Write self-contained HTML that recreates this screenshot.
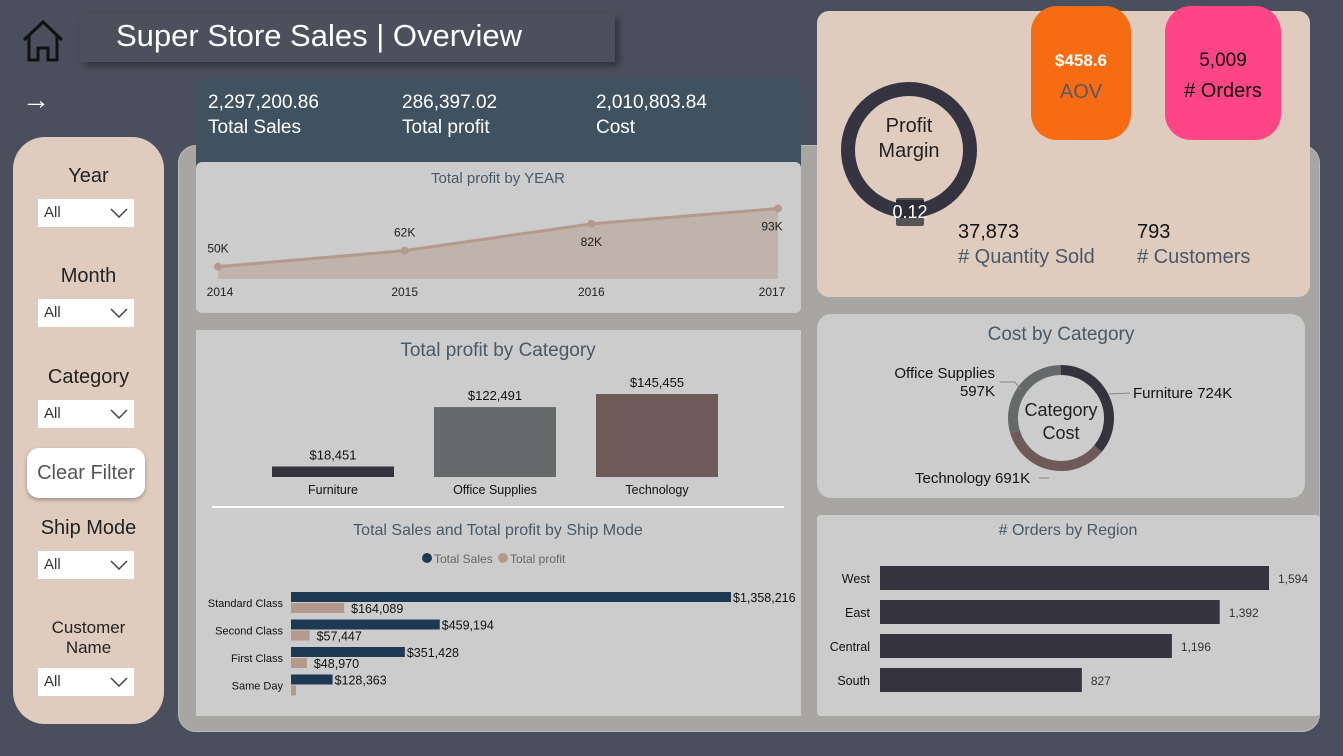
<!DOCTYPE html>
<html><head><meta charset="utf-8">
<style>
*{box-sizing:border-box;margin:0;padding:0}
body{width:1343px;height:756px;background:#494f5c;position:relative;overflow:hidden;font-family:"Liberation Sans",sans-serif}
.abs{position:absolute}
.lbl{position:absolute;font-size:20px;color:#222;text-align:center;width:151px;left:13px}
.dd{position:absolute;left:38px;width:96px;height:28px;background:#fff;font-size:15px;color:#333;padding:5px 6px}
.dd svg{position:absolute;right:6px;top:9px}
</style></head><body>
<div class="abs" style="left:178px;top:145px;width:1142px;height:587px;background:#a8a6a3;border-radius:18px;border:1px solid #bbb"></div>
<svg class="abs" style="left:20px;top:18px" width="46" height="46" viewBox="0 0 46 46"><path d="M4 22 L23 4 L42 22 M9 18 V42 H18 V30 H28 V42 H37 V18" fill="none" stroke="#111" stroke-width="3"/></svg>
<div class="abs" style="left:80px;top:14px;width:535px;height:48px;background:#4b505d;box-shadow:4px 4px 6px rgba(0,0,0,.35);color:#fff;font-size:31px;padding:4px 0 0 36px">Super Store Sales | Overview</div>
<div class="abs" style="left:22px;top:84px;color:#fff;font-size:28px">→</div>

<div class="abs" style="left:13px;top:137px;width:151px;height:587px;background:#e0ccbf;border-radius:32px"></div>
<div class="lbl" style="top:165px">Year</div>
<div class="dd" style="top:199px">All<svg width="18" height="10"><path d="M1 1 L9 9 L17 1" fill="none" stroke="#444" stroke-width="1.5"/></svg></div>
<div class="lbl" style="top:265px">Month</div>
<div class="dd" style="top:299px">All<svg width="18" height="10"><path d="M1 1 L9 9 L17 1" fill="none" stroke="#444" stroke-width="1.5"/></svg></div>
<div class="lbl" style="top:366px">Category</div>
<div class="dd" style="top:400px">All<svg width="18" height="10"><path d="M1 1 L9 9 L17 1" fill="none" stroke="#444" stroke-width="1.5"/></svg></div>
<div class="abs" style="left:27px;top:448px;width:118px;height:50px;background:#fff;border-radius:12px;font-size:20px;color:#555;text-align:center;line-height:50px;box-shadow:0 2px 4px rgba(0,0,0,.3)">Clear Filter</div>
<div class="lbl" style="top:517px">Ship Mode</div>
<div class="dd" style="top:551px">All<svg width="18" height="10"><path d="M1 1 L9 9 L17 1" fill="none" stroke="#444" stroke-width="1.5"/></svg></div>
<div class="lbl" style="top:618px;font-size:17px;line-height:20px">Customer<br>Name</div>
<div class="dd" style="top:668px">All<svg width="18" height="10"><path d="M1 1 L9 9 L17 1" fill="none" stroke="#444" stroke-width="1.5"/></svg></div>

<div class="abs" style="left:196px;top:78px;width:605px;height:110px;background:#40525f;border-radius:14px 14px 0 0;color:#fff;font-size:19px;line-height:25px">
<div class="abs" style="left:12px;top:12px">2,297,200.86<br>Total Sales</div>
<div class="abs" style="left:206px;top:12px">286,397.02<br>Total profit</div>
<div class="abs" style="left:400px;top:12px">2,010,803.84<br>Cost</div>
</div>

<svg class="abs" id="lineChart" style="left:196px;top:162px" width="605" height="151"></svg>
<svg class="abs" id="catChart" style="left:196px;top:330px" width="605" height="386"></svg>

<div class="abs" style="left:817px;top:11px;width:493px;height:286px;background:#e0ccbf;border-radius:12px"></div>
<svg class="abs" style="left:830px;top:70px" width="160" height="170">
<circle cx="79" cy="80" r="61" fill="none" stroke="#363440" stroke-width="14"/>
<text x="79" y="62" text-anchor="middle" font-size="20" fill="#222">Profit</text>
<text x="79" y="87" text-anchor="middle" font-size="20" fill="#222">Margin</text>
<rect x="66" y="128" width="28" height="28" fill="#555" rx="2"/>
<rect x="66" y="130" width="28" height="18" fill="#2e2d35"/>
<text x="80" y="148" text-anchor="middle" font-size="18" fill="#fff">0.12</text>
</svg>
<div class="abs" style="left:1031px;top:6px;width:100px;height:134px;background:#f76c12;border-radius:26px;text-align:center">
<div style="color:#fff;font-size:17px;font-weight:bold;margin-top:45px">$458.6</div><div style="color:#5a5560;font-size:20px;margin-top:10px">AOV</div></div>
<div class="abs" style="left:1165px;top:6px;width:116px;height:134px;background:#fe4585;border-radius:26px;text-align:center">
<div style="color:#111;font-size:19px;margin-top:44px">5,009</div><div style="color:#111;font-size:20px;margin-top:8px"># Orders</div></div>
<div class="abs" style="left:958px;top:220px;font-size:20px;line-height:25px;color:#111">37,873<br><span style="color:#4b5866"># Quantity Sold</span></div>
<div class="abs" style="left:1137px;top:220px;font-size:20px;line-height:25px;color:#111">793<br><span style="color:#4b5866"># Customers</span></div>

<svg class="abs" id="costChart" style="left:817px;top:314px" width="488" height="184"></svg>
<svg class="abs" id="regionChart" style="left:817px;top:515px" width="503" height="201"></svg>

<script>
const NS="http://www.w3.org/2000/svg";
function mk(p,tag,a,txt){const e=document.createElementNS(NS,tag);for(const k in a)e.setAttribute(k,a[k]);if(txt!==undefined)e.textContent=txt;p.appendChild(e);return e;}

// ---- Profit by year
const years=["2014","2015","2016","2017"];
const yearProfit=[49.5,61.6,81.8,93.4];
const yearLabels=["50K","62K","82K","93K"];
(function(){
const s=document.getElementById('lineChart');
const bg=mk(s,'rect',{x:0,y:0,width:605,height:151,rx:6,fill:'#cccccc'});


const t=mk(s,'text',{x:302,y:21,'text-anchor':'middle','font-size':15,fill:'#4b5866'},'Total profit by YEAR');


const x=i=>22+i*(560/(years.length-1));
const y=v=>117-(v-40.2)*1.326;
let d='M'+x(0)+' 117';years.forEach((_,i)=>d+=' L'+x(i)+' '+y(yearProfit[i]));d+=' L'+x(years.length-1)+' 117Z';
const a=mk(s,'path',{d:d,fill:'#bfb3ab'});


const l=mk(s,'polyline',{points:years.map((_,i)=>x(i)+','+y(yearProfit[i])).join(' '),fill:'none',stroke:'#b49a8c','stroke-width':3});


years.forEach((yr,i)=>{
 const c=mk(s,'circle',{cx:x(i),cy:y(yearProfit[i]),r:4,fill:'#b49a8c'});
 
 
 const above=(i===0||i===1);
 const lb=mk(s,'text',{x:x(i)+(i===years.length-1?-6:0),y:above?y(yearProfit[i])-14:y(yearProfit[i])+22,'text-anchor':'middle','font-size':12,fill:'#222'},yearLabels[i]);
 
 
 const tk=mk(s,'text',{x:x(i)+(i===0?2:(i===years.length-1?-6:0)),y:134,'text-anchor':'middle','font-size':12,fill:'#222'},yr);
 
 
});
})();

// ---- Profit by category + ship mode
const cats=["Furniture","Office Supplies","Technology"];
const catProfit=[18451,122491,145455];
const catLabels=["$18,451","$122,491","$145,455"];
const catColors=["#35333d","#666969","#6e5a58"];
const shipModes=["Standard Class","Second Class","First Class","Same Day"];
const shipSales=[1358216,459194,351428,128363];
const shipProfit=[164089,57447,48970,15497];
const shipSalesLabels=["$1,358,216","$459,194","$351,428","$128,363"];
const shipProfitLabels=["$164,089","$57,447","$48,970",""];
(function(){
const s=document.getElementById('catChart');
const bg=mk(s,'rect',{x:0,y:0,width:605,height:386,fill:'#cccccc'});


const t=mk(s,'text',{x:302,y:26,'text-anchor':'middle','font-size':19,fill:'#4b5866'},'Total profit by Category');


const base=147,sc=83/145455;
cats.forEach((c,i)=>{
 const bx=76+i*162,h=catProfit[i]*sc;
 const r=mk(s,'rect',{x:bx,y:base-h,width:122,height:h,fill:catColors[i]});
 
 
 const v=mk(s,'text',{x:bx+61,y:base-h-7,'text-anchor':'middle','font-size':13,fill:'#111'},catLabels[i]);
 
 
 const n=mk(s,'text',{x:bx+61,y:base+17,'text-anchor':'middle','font-size':12.5,fill:'#111'},c);
 
 
});
const dv=mk(s,'rect',{x:16,y:176,width:572,height:2,fill:'#fff'});


const t2=mk(s,'text',{x:302,y:205,'text-anchor':'middle','font-size':16,fill:'#4b5866'},'Total Sales and Total profit by Ship Mode');


const lg1=mk(s,'circle',{cx:231,cy:228,r:5,fill:'#1d3a52'});


mk(s,'text',{x:238,y:233,'font-size':12,fill:'#666'},'Total Sales');
const lg2=mk(s,'circle',{cx:307,cy:228,r:5,fill:'#b49a8c'});


mk(s,'text',{x:314,y:233,'font-size':12,fill:'#666'},'Total profit');
const x0=95,xs=440/1358216;
shipModes.forEach((m,i)=>{
 const ry=262+i*27.5;
 const n=mk(s,'text',{x:87,y:ry+15,'text-anchor':'end','font-size':11,fill:'#111'},m);
 
 
 const w1=shipSales[i]*xs;
 const b1=mk(s,'rect',{x:x0,y:ry,width:w1,height:10,fill:'#1d3a52'});
 
 
 const l1=mk(s,'text',{x:x0+w1+2,y:ry+10,'font-size':12.5,fill:'#111'},shipSalesLabels[i]);
 
 
 const w2=shipProfit[i]*xs;
 const b2=mk(s,'rect',{x:x0,y:ry+11,width:w2,height:10,fill:'#b49a8c'});
 
 
 const l2=mk(s,'text',{x:x0+w2+7,y:ry+21,'font-size':12.5,fill:'#111'},shipProfitLabels[i]);
 
 
});
})();

// ---- Cost by category donut
const costCats=["Furniture","Technology","Office Supplies"];
const costVals=[724,691,597];
const costColors=["#35333d","#6e5a58","#666969"];
(function(){
const s=document.getElementById('costChart');
const bg=mk(s,'rect',{x:0,y:0,width:488,height:184,rx:14,fill:'#cccccc'});


const t=mk(s,'text',{x:244,y:26,'text-anchor':'middle','font-size':19,fill:'#4b5866'},'Cost by Category');


const cx=244,cy=104,r=48,tot=costVals.reduce((a,b)=>a+b,0);
let ang=0;
const pts=[];
costVals.forEach((v,i)=>{
 const a0=ang,a1=ang+v/tot*2*Math.PI;ang=a1;
 const p=(a)=>[cx+r*Math.sin(a),cy-r*Math.cos(a)];
 const [x1,y1]=p(a0),[x2,y2]=p(a1);
 const sg=mk(s,'path',{d:`M${x1} ${y1} A${r} ${r} 0 ${a1-a0>Math.PI?1:0} 1 ${x2} ${y2}`,fill:'none',stroke:costColors[i],'stroke-width':10});
 
 
});
mk(s,'text',{x:cx,y:102,'text-anchor':'middle','font-size':18,fill:'#222'},'Category');
mk(s,'text',{x:cx,y:125,'text-anchor':'middle','font-size':18,fill:'#222'},'Cost');
const lf=mk(s,'text',{x:316,y:84,'font-size':15,fill:'#111'},costCats[0]+' '+costVals[0]+'K');


mk(s,'line',{x1:292,y1:80,x2:313,y2:79,stroke:'#888'});
const lt=mk(s,'text',{x:98,y:169,'font-size':15,fill:'#111'},costCats[1]+' '+costVals[1]+'K');


mk(s,'line',{x1:222,y1:164,x2:232,y2:164,stroke:'#888'});
const lo=mk(s,'text',{x:178,y:64,'text-anchor':'end','font-size':15,fill:'#111'},costCats[2]);


mk(s,'text',{x:178,y:82,'text-anchor':'end','font-size':15,fill:'#111'},costVals[2]+'K');
mk(s,'polyline',{points:'183,68 198,68 204,76',fill:'none',stroke:'#888'});
})();

// ---- Orders by region
const regions=["West","East","Central","South"];
const regionOrders=[1594,1392,1196,827];
const regionLabels=["1,594","1,392","1,196","827"];
(function(){
const s=document.getElementById('regionChart');
const bg=mk(s,'rect',{x:0,y:0,width:503,height:201,rx:4,fill:'#cccccc'});


const t=mk(s,'text',{x:251,y:20,'text-anchor':'middle','font-size':16,fill:'#4b5866'},'# Orders by Region');


const x0=63,sc=389/1594;
regions.forEach((r,i)=>{
 const y=51+i*34,w=regionOrders[i]*sc;
 const b=mk(s,'rect',{x:x0,y:y,width:w,height:24,fill:'#35333d'});
 
 
 const n=mk(s,'text',{x:53,y:y+17,'text-anchor':'end','font-size':12.5,fill:'#111'},r);
 
 
 const v=mk(s,'text',{x:x0+w+9,y:y+17,'font-size':12,fill:'#333'},regionLabels[i]);
 
 
});
})();
</script>
</body></html>
